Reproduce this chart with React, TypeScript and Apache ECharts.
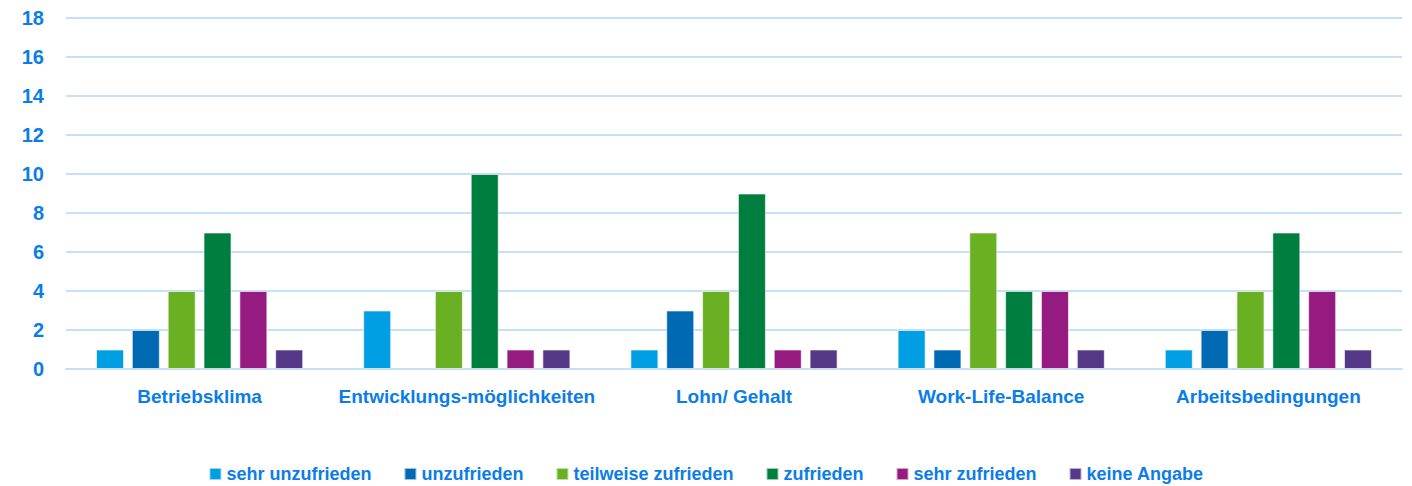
import React, { useEffect, useRef } from "react";
import * as echarts from "echarts";

const categories = ["Betriebsklima", "Entwicklungs-möglichkeiten", "Lohn/ Gehalt", "Work-Life-Balance", "Arbeitsbedingungen"];
const seriesNames = ["sehr unzufrieden", "unzufrieden", "teilweise zufrieden", "zufrieden", "sehr zufrieden", "keine Angabe"];
const sehrUnzufrieden = [1, 3, 1, 2, 1];
const unzufrieden = [2, null, 3, 1, 2];
const teilweiseZufrieden = [4, 4, 4, 7, 4];
const zufrieden = [7, 10, 9, 4, 7];
const sehrZufrieden = [4, 1, 1, 4, 4];
const keineAngabe = [1, 1, 1, 1, 1];
const seriesValues = [sehrUnzufrieden, unzufrieden, teilweiseZufrieden, zufrieden, sehrZufrieden, keineAngabe];
const colors = ["#009FE3", "#0069B4", "#6AB023", "#007E40", "#951B81", "#553888"];

const FONT = "'Liberation Sans', Arial, sans-serif";
const TEXT = "#0A7DE8";

export default function App() {
  const ref = useRef<HTMLDivElement>(null);
  useEffect(() => {
    const chart = echarts.init(ref.current!, null, { renderer: "svg" });
    chart.setOption({
      animation: false,
      textStyle: { fontFamily: FONT },
      grid: { left: 66, right: 10, top: 18, bottom: 117 },
      legend: {
        top: 460,
        left: "center",
        itemWidth: 12,
        itemHeight: 12,
        itemGap: 32,
        icon: "rect",
        textStyle: { color: TEXT, fontSize: 18, fontWeight: "bold", fontFamily: FONT },
        data: seriesNames,
      },
      xAxis: {
        type: "category",
        data: categories,
        axisLine: { show: true, lineStyle: { color: "#C5E0F8", width: 2 } },
        axisTick: { show: false },
        axisLabel: { color: TEXT, fontSize: 19, fontWeight: "bold", margin: 18, interval: 0, fontFamily: FONT },
      },
      yAxis: {
        type: "value",
        min: 0,
        max: 18,
        interval: 2,
        axisLine: { show: false },
        axisTick: { show: false },
        splitLine: { lineStyle: { color: "#C5E0F8", width: 2 } },
        axisLabel: { color: TEXT, fontSize: 20, fontWeight: "bold", margin: 22, fontFamily: FONT },
      },
      series: seriesNames.map((name, i) => ({
        name,
        type: "bar",
        data: seriesValues[i],
        barWidth: 28,
        barGap: "28%",
        itemStyle: { color: colors[i], borderColor: "rgba(255,255,255,0.6)", borderWidth: 1 },
      })),
    });
    return () => chart.dispose();
  }, []);
  return <div ref={ref} style={{ width: 1412, height: 486, position: "absolute", left: 0, top: 0 }} />;
}
